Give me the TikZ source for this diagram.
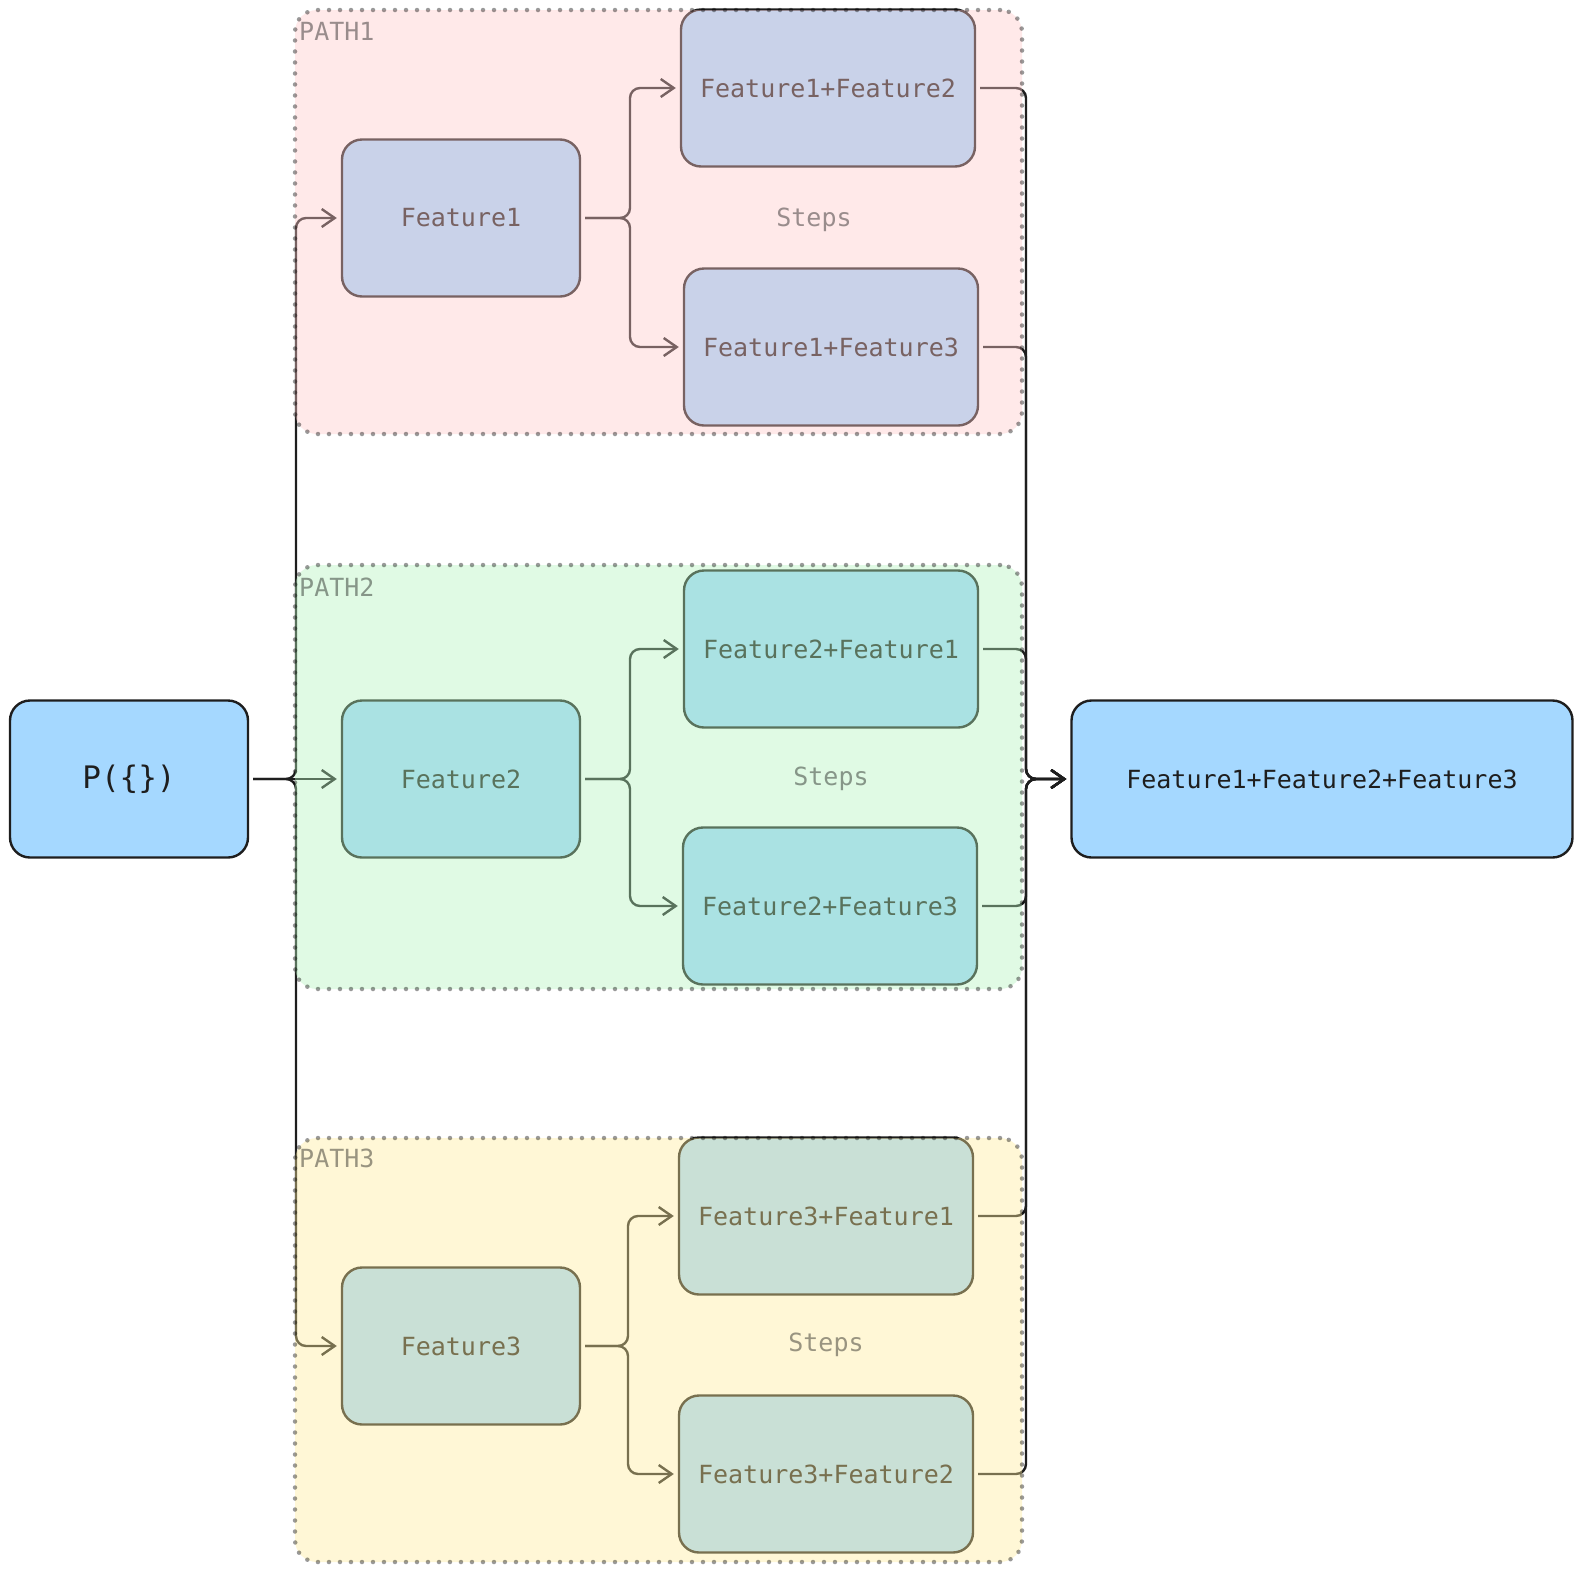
\documentclass[tikz,border=0pt]{standalone}
\usepackage{fontspec}
\setmainfont{DejaVu Sans Mono}
\usetikzlibrary{arrows.meta,calc}
\definecolor{nodeblue}{HTML}{A5D8FF}
\definecolor{ink}{HTML}{1E1E1E}
\definecolor{gpink}{HTML}{FFC9C9}
\definecolor{ggreen}{HTML}{B2F2BB}
\definecolor{gyellow}{HTML}{FFEC99}
\begin{document}
\begin{tikzpicture}[x=1pt,y=-1pt,
  box/.style={draw=ink, fill=nodeblue, line width=2.4pt, rounded corners=20pt, minimum height=157pt, font=\fontsize{25}{30}\selectfont, text=ink, inner sep=0pt},
  single/.style={box, minimum width=238pt},
  pair/.style={box, minimum width=294pt},
  conn/.style={draw=ink, line width=2.4pt, rounded corners=10pt, -{Straight Barb[length=13pt,width=18pt]}, shorten <=4pt, shorten >=4pt},
  grp/.style={fill opacity=0.4, draw=black, draw opacity=0.4, line width=4.5pt, dash pattern=on 0pt off 11pt, line cap=round, rounded corners=22pt, inner sep=0pt},
  lbl/.style={text=black, text opacity=0.4, font=\fontsize{25}{30}\selectfont, inner sep=0pt}
]
\useasboundingbox (0,0) rectangle (1583,1572);

% main nodes
\node[box, minimum width=238pt, font=\fontsize{31}{36}\selectfont] (P) at (129,779) {P(\{\})};
\node[box, minimum width=501pt] (Fin) at (1322,779) {Feature1+Feature2+Feature3};

\node[single] (F1) at (461,218) {Feature1};
\node[single] (F2) at (461,779) {Feature2};
\node[single] (F3) at (461,1346) {Feature3};

\node[pair] (F12) at (828,88) {Feature1+Feature2};
\node[pair] (F13) at (831,347) {Feature1+Feature3};
\node[pair] (F21) at (831,649) {Feature2+Feature1};
\node[pair] (F23) at (830,906) {Feature2+Feature3};
\node[pair] (F31) at (826,1216) {Feature3+Feature1};
\node[pair] (F32) at (826,1474) {Feature3+Feature2};

% junction points
\coordinate (bl) at (296,779);
\coordinate (br) at (1026,779);
\coordinate (j1) at (630,218);
\coordinate (j2) at (630,779);
\coordinate (j3) at (628,1346);

% connectors from P
\draw[conn] (P.east) -- (bl) |- (F1.west);
\draw[conn] (P.east) -- (F2.west);
\draw[conn] (P.east) -- (bl) |- (F3.west);

% inner branches
\draw[conn] (F1.east) -- (j1) |- (F12.west);
\draw[conn] (F1.east) -- (j1) |- (F13.west);
\draw[conn] (F2.east) -- (j2) |- (F21.west);
\draw[conn] (F2.east) -- (j2) |- (F23.west);
\draw[conn] (F3.east) -- (j3) |- (F31.west);
\draw[conn] (F3.east) -- (j3) |- (F32.west);

% merging to final
\draw[conn] (F12.east) -- (F12.east -| br) |- (Fin.west);
\draw[conn] (F13.east) -- (F13.east -| br) |- (Fin.west);
\draw[conn] (F21.east) -- (F21.east -| br) |- (Fin.west);
\draw[conn] (F23.east) -- (F23.east -| br) |- (Fin.west);
\draw[conn] (F31.east) -- (F31.east -| br) |- (Fin.west);
\draw[conn] (F32.east) -- (F32.east -| br) |- (Fin.west);

% group overlays
\node[grp, fill=gpink, minimum width=727pt, minimum height=424pt] (G1) at (658.5,222) {};
\node[grp, fill=ggreen, minimum width=727pt, minimum height=424pt] (G2) at (658.5,777) {};
\node[grp, fill=gyellow, minimum width=727pt, minimum height=424pt] (G3) at (658.5,1350) {};

% labels
\node[lbl, anchor=west] (L1) at (299,31) {PATH1};
\node[lbl, anchor=west] (L2) at (299,587) {PATH2};
\node[lbl, anchor=west] (L3) at (299,1158) {PATH3};
\node[lbl] (S1) at (814,220) {Steps};
\node[lbl] (S2) at (831,779) {Steps};
\node[lbl] (S3) at (826,1345) {Steps};
\end{tikzpicture}
\end{document}
